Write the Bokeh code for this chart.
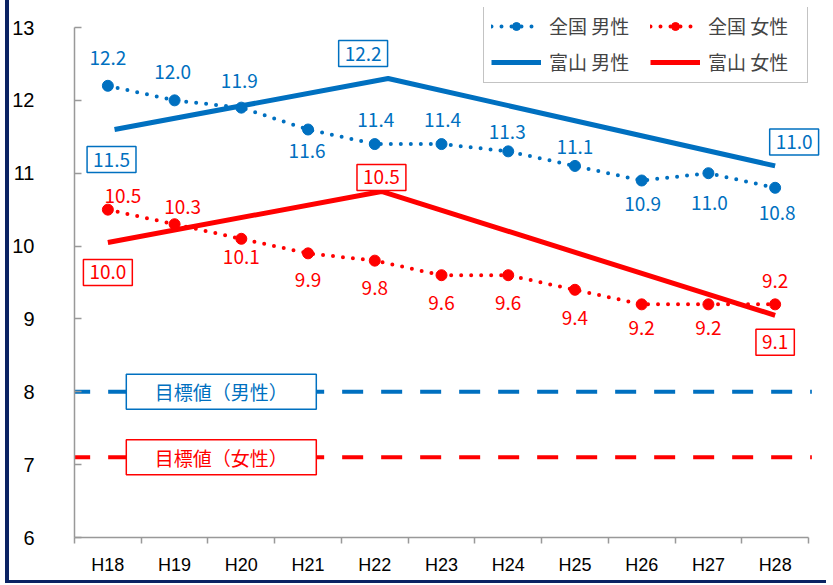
from bokeh.plotting import figure
from bokeh.models import ColumnDataSource, FixedTicker, Legend, LegendItem, Label, Range1d
from bokeh.core.properties import value
from bokeh.embed import file_html
from bokeh.resources import INLINE

# ---- data ----
years = ["H18", "H19", "H20", "H21", "H22", "H23", "H24", "H25", "H26", "H27", "H28"]
national_male = [12.2, 12.0, 11.9, 11.6, 11.4, 11.4, 11.3, 11.1, 10.9, 11.0, 10.8]
national_female = [10.5, 10.3, 10.1, 9.9, 9.8, 9.6, 9.6, 9.4, 9.2, 9.2, 9.2]
toyama_male_pos = [0.1, 4.2, 10.0]
toyama_male = [11.6, 12.3, 11.1]
toyama_male_labels = ["11.5", "12.2", "11.0"]
toyama_female_pos = [0.0, 4.1, 10.0]
toyama_female = [10.05, 10.75, 9.05]
toyama_female_labels = ["10.0", "10.5", "9.1"]
target_male = 8.0
target_female = 7.1
y_ticks = [6, 7, 8, 9, 10, 11, 12, 13]
y_min, y_max = 6, 13

BLUE = "#0070C0"
RED = "#FF0000"
JP = "Noto Sans CJK JP"
NUM = "Noto Sans CJK JP"
AX = "Liberation Sans"

xi = list(range(len(years)))
x_lo, x_hi = -0.5, len(years) - 0.5
PX_PER_UNIT = 510 / (y_max - y_min)
PX_PER_CAT = 734 / len(years)
HEAD = 20   # px of headroom above the top tick (for the legend)
RIGHT = 18  # px of room right of the last category (for overhanging labels)

p = figure(frame_width=734 + RIGHT, frame_height=510 + HEAD, min_border_left=64, min_border_right=0,
           min_border_top=7, min_border_bottom=43,
           x_range=Range1d(x_lo, x_hi + RIGHT / PX_PER_CAT),
           y_range=Range1d(y_min, y_max + HEAD / PX_PER_UNIT),
           output_backend="svg", toolbar_location=None)
p.styles = {"margin-left": "5px", "border-left": "4px solid #0b2363", "border-bottom": "3px solid #0b2363"}
p.outline_line_color = None
p.xgrid.visible = False
p.ygrid.visible = False

# axes
p.xaxis.ticker = FixedTicker(ticks=xi, minor_ticks=[i - 0.5 for i in range(len(years) + 1)])
p.xaxis.bounds = (x_lo, x_hi)
p.xaxis.major_label_overrides = {i: y for i, y in enumerate(years)}
p.xaxis.major_tick_line_color = None
p.xaxis.minor_tick_out = 6
p.xaxis.minor_tick_in = 0
p.xaxis.minor_tick_line_color = "#999999"
p.xaxis.minor_tick_line_width = 1.5
p.xaxis.axis_line_color = "#999999"
p.xaxis.axis_line_width = 1.5
p.xaxis.major_label_text_font = AX
p.xaxis.major_label_text_font_size = "18px"
p.xaxis.major_label_text_color = "black"
p.xaxis.major_label_standoff = 11

p.yaxis.ticker = FixedTicker(ticks=y_ticks, minor_ticks=[])
p.yaxis.bounds = (y_min, y_max)
p.yaxis.major_tick_in = 7
p.yaxis.major_tick_out = 0
p.yaxis.major_tick_line_color = "#999999"
p.yaxis.major_tick_line_width = 1.5
p.yaxis.axis_line_color = "#999999"
p.yaxis.axis_line_width = 1.5
p.yaxis.major_label_text_font = AX
p.yaxis.major_label_text_font_size = "20px"
p.yaxis.major_label_text_color = "black"
p.yaxis.major_label_standoff = 40

# target lines
p.segment(x0=[x_lo - 0.08, x_lo - 0.08], x1=[x_hi + 0.05, x_hi + 0.05],
          y0=[target_male, target_female], y1=[target_male, target_female],
          line_color=[BLUE, RED], line_width=4, line_dash="21 18", level="underlay")

tsrc = ColumnDataSource(dict(x=[1.7, 1.7], y=[target_male, target_female],
                             t=["目標値（男性）", "目標値（女性）"], c=[BLUE, RED]))
p.rect(x="x", y="y", width=190, height=35, width_units="screen", height_units="screen",
       fill_color="white", line_color="c", line_width=1.5, source=tsrc)
p.text(x="x", y="y", text="t", text_color="c", text_font=value(JP), text_font_size="19px",
       text_align="center", text_baseline="middle", source=tsrc)

# national lines
nm_line = p.line(xi, national_male, line_color=BLUE, line_width=4, line_dash="0 10", line_cap="round")
nm_pts = p.scatter(xi, national_male, size=11, fill_color=BLUE, line_color=BLUE)
nf_line = p.line(xi, national_female, line_color=RED, line_width=4, line_dash="0 10", line_cap="round")
nf_pts = p.scatter(xi, national_female, size=11, fill_color=RED, line_color=RED)

# toyama lines
tm_line = p.line(toyama_male_pos, toyama_male, line_color=BLUE, line_width=5)
tf_line = p.line(toyama_female_pos, toyama_female, line_color=RED, line_width=5)

# national labels
nm_dy = [-28, -28, -27, 21, -24, -24, -19, -19, 23, 30, 25]
nm_dx = [0, -2, -2, -1, 1, 1, -1, 0, 1, 1, 2]
nf_dy = [-14, -17, 18, 27, 27, 28, 28, 28, 24, 24, -23]
nf_dx = [15, 8, 0, 0, 0, 0, 0, 0, 0, 0, 0]
p.text(x=xi, y=national_male, text=[f"{v:.1f}" for v in national_male], x_offset=nm_dx, y_offset=nm_dy,
       text_color=BLUE, text_font=value(NUM), text_font_size="19px",
       text_align="center", text_baseline="middle")
p.text(x=xi, y=national_female, text=[f"{v:.1f}" for v in national_female], x_offset=nf_dx, y_offset=nf_dy,
       text_color=RED, text_font=value(NUM), text_font_size="19px",
       text_align="center", text_baseline="middle")

# toyama boxed labels; Label y_offset is upward
tm_dx = [-3, -25, 19]
tm_dy = [30, -25, -24]
tf_dx = [0, 0, 0]
tf_dy = [30, -14, 27]
for xs, ys, labs, dxs, dys, col in [
    (toyama_male_pos, toyama_male, toyama_male_labels, tm_dx, tm_dy, BLUE),
    (toyama_female_pos, toyama_female, toyama_female_labels, tf_dx, tf_dy, RED),
]:
    for xv, yv, lab, dx, dy in zip(xs, ys, labs, dxs, dys):
        p.add_layout(Label(x=xv, y=yv, x_offset=dx, y_offset=-dy, text=lab,
                           text_color=col, text_font=NUM, text_font_size="19px",
                           text_align="center", text_baseline="middle",
                           background_fill_color="white", border_line_color=col,
                           border_line_width=1.5, padding=6))

# unit label
p.add_layout(Label(x=x_lo, y=y_max, x_offset=-51, y_offset=-30, text="(g)", text_font=AX,
                   text_font_size="18px", text_align="center", text_baseline="middle", text_color="black"))

legend = Legend(items=[
    LegendItem(label="全国 男性", renderers=[nm_line, nm_pts]),
    LegendItem(label="富山 男性", renderers=[tm_line]),
    LegendItem(label="全国 女性", renderers=[nf_line, nf_pts]),
    LegendItem(label="富山 女性", renderers=[tf_line]),
], ncols=2, location=(409, 454), label_text_font=JP, label_text_font_size="19px",
    glyph_width=50, glyph_height=20, label_height=20, label_width=92, spacing=9, padding=7, margin=0,
    label_standoff=8, border_line_color="#888888", border_line_width=1.5,
    background_fill_color="white", background_fill_alpha=1.0)
p.add_layout(legend)

open("out.html", "w").write(file_html(p, INLINE))
